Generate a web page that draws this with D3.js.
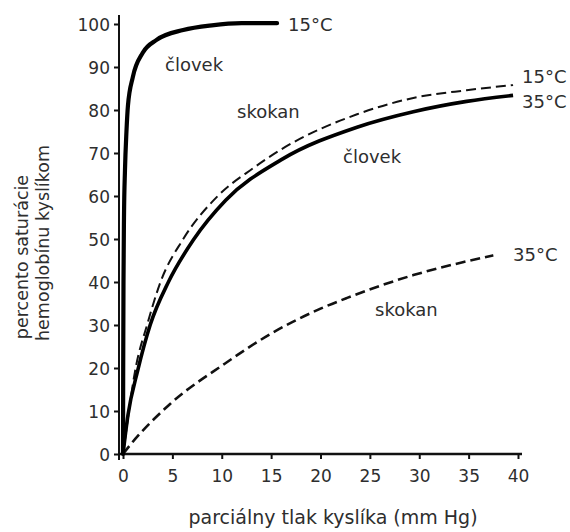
<!DOCTYPE html>
<html>
<head>
<meta charset="utf-8">
<script src="https://cdn.jsdelivr.net/npm/d3@7"></script>
<style>
  html, body { margin: 0; padding: 0; background: #fff; }
  svg text { font-family: "DejaVu Sans", sans-serif; fill: #2e2e2e; }
</style>
</head>
<body>
<svg id="chart" width="570" height="532"></svg>
<script>
// ---- data ----
const xTicks = [0, 5, 10, 15, 20, 25, 30, 35, 40];
const yTicks = [0, 10, 20, 30, 40, 50, 60, 70, 80, 90, 100];

// človek 15°C (solid, steep)
const human15X = [0, 0.02, 0.05, 0.1, 0.2, 0.35, 0.5, 1.0, 2.0, 3.4, 6.1, 9, 12, 15.6];
const human15Y = [0, 20, 40, 55, 66, 75, 81, 87.7, 93.3, 96.3, 98.6, 99.7, 100.2, 100.2];

// človek 35°C (solid)
const human35X = [0, 0.5, 1.5, 2.75, 4.6, 7.1, 10.4, 16, 23.7, 29.4, 34.8, 39.5];
const human35Y = [0, 9, 19.5, 30, 40, 49.7, 59, 68.4, 76, 79.6, 82, 83.4];

// skokan 15°C (dashed, thin)
const frog15X = [0, 0.3, 1.2, 2.5, 3.8, 6.1, 9.6, 13.2, 16, 23.7, 29.4, 34.8, 39.5];
const frog15Y = [0, 5, 19, 30.5, 40, 50, 60, 66.5, 70.8, 79, 82.8, 84.6, 85.8];

// skokan 35°C (dashed)
const frog35X = [0, 0.8, 4.8, 10.3, 15, 20, 22.7, 29.4, 34.4, 37.5];
const frog35Y = [0, 2.3, 11.7, 21, 28, 33.8, 36.3, 41.6, 44.6, 46.2];

const xTitle = "parciálny tlak kyslíka (mm Hg)";
const yTitle1 = "percento saturácie";
const yTitle2 = "hemoglobínu kyslíkom";

// ---- chart ----
const svg = d3.select("#chart");
const x = d3.scaleLinear().domain([0, 40]).range([123, 518]);
const y = d3.scaleLinear().domain([0, 100]).range([454, 24]);

// axes
const yAxis = svg.append("g").attr("transform", "translate(119,0)")
  .call(d3.axisLeft(y).tickValues(yTicks).tickSize(5).tickPadding(4).tickFormat(d3.format("d")));
yAxis.select(".domain").remove();
yAxis.selectAll(".tick line").attr("stroke", "#111").attr("stroke-width", 2);
yAxis.selectAll(".tick text").style("font-size", "17px").attr("dy", "0.36em");
svg.append("line").attr("x1", 119).attr("x2", 119).attr("y1", 15).attr("y2", 460)
  .attr("stroke", "#111").attr("stroke-width", 2);

const xAxis = svg.append("g").attr("transform", "translate(0,454)")
  .call(d3.axisBottom(x).tickValues(xTicks).tickSize(5).tickPadding(11).tickFormat(d3.format("d")));
xAxis.select(".domain").remove();
xAxis.selectAll(".tick line").attr("stroke", "#111").attr("stroke-width", 2);
xAxis.selectAll(".tick text").style("font-size", "17px");
svg.append("line").attr("x1", 118).attr("x2", 522).attr("y1", 454).attr("y2", 454)
  .attr("stroke", "#111").attr("stroke-width", 2.5);

// curves
const line = d3.line().x(d => x(d[0])).y(d => y(d[1])).curve(d3.curveMonotoneX);
const zip = (a, b) => a.map((v, i) => [v, b[i]]);

svg.append("path").datum(zip(frog35X, frog35Y)).attr("d", line)
  .attr("fill", "none").attr("stroke", "#111").attr("stroke-width", 2.6)
  .attr("stroke-dasharray", "10,5");
svg.append("path").datum(zip(frog15X, frog15Y)).attr("d", line)
  .attr("fill", "none").attr("stroke", "#111").attr("stroke-width", 2)
  .attr("stroke-dasharray", "10,5");
svg.append("path").datum(zip(human35X, human35Y)).attr("d", line)
  .attr("fill", "none").attr("stroke", "#000").attr("stroke-width", 3.6);
svg.append("path").datum(zip(human15X, human15Y)).attr("d", line)
  .attr("fill", "none").attr("stroke", "#000").attr("stroke-width", 4.2)
  .attr("stroke-linecap", "round");

// labels
const labels = [
  {t: "15°C", x: 288, y: 25},
  {t: "človek", x: 165, y: 65},
  {t: "skokan", x: 237, y: 112},
  {t: "15°C", x: 522, y: 77},
  {t: "35°C", x: 522, y: 102},
  {t: "človek", x: 343, y: 157},
  {t: "35°C", x: 513, y: 255},
  {t: "skokan", x: 375, y: 310}
];
svg.selectAll("text.lbl").data(labels).enter().append("text").attr("class", "lbl")
  .attr("x", d => d.x).attr("y", d => d.y).attr("dy", "0.35em")
  .style("font-size", "18px").text(d => d.t);

// axis titles
svg.append("text").attr("x", 333).attr("y", 517).attr("dy", "0.35em")
  .attr("text-anchor", "middle").style("font-size", "19px").text(xTitle);
svg.append("text").attr("transform", "translate(22,257) rotate(-90)")
  .attr("text-anchor", "middle").attr("dy", "0.35em").style("font-size", "17.5px").text(yTitle1);
svg.append("text").attr("transform", "translate(43,243) rotate(-90)")
  .attr("text-anchor", "middle").attr("dy", "0.35em").style("font-size", "17.5px").text(yTitle2);
</script>
</body>
</html>
